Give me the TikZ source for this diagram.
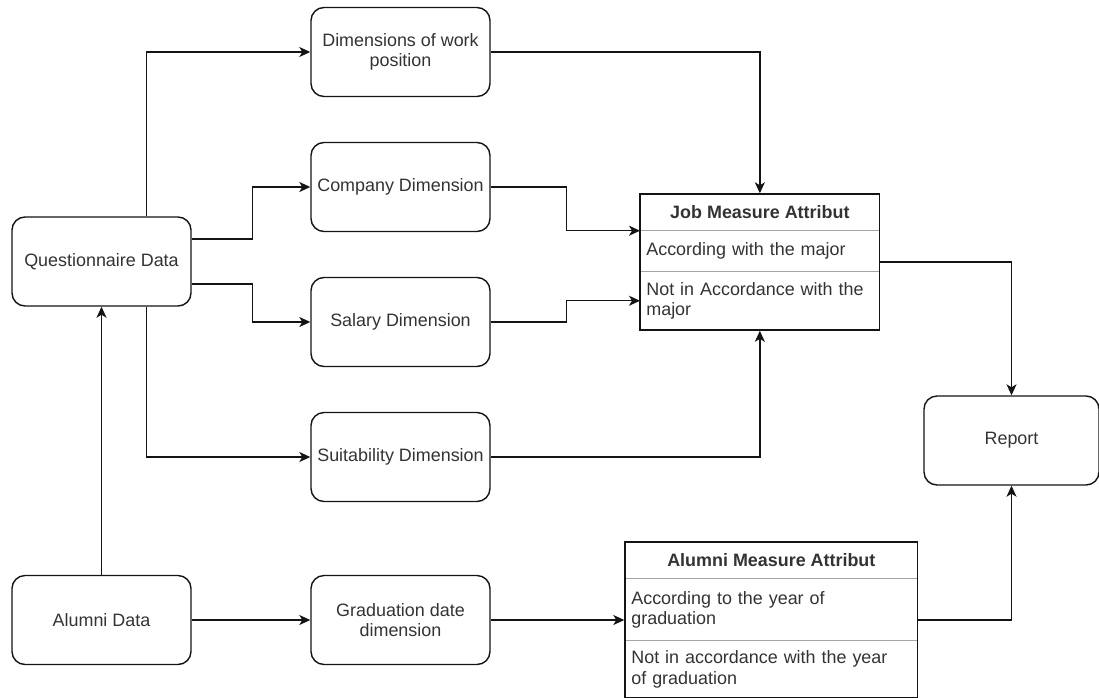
\documentclass[tikz,border=0pt]{standalone}
\usepackage{fontspec}
\setmainfont{Liberation Sans}
\usetikzlibrary{arrows.meta,positioning,fit,calc}
\definecolor{flowText}{RGB}{51,51,51}
\definecolor{flowLine}{RGB}{20,20,20}
\definecolor{flowDivider}{RGB}{165,165,165}

\begin{document}
\begin{tikzpicture}[
    font=\fontsize{10.2}{11.5}\selectfont,
    >={Stealth[length=2.2mm,width=2mm,inset=0.6mm]},
    dimbox/.style={draw=flowLine, thick, rounded corners=0.26cm, text=flowText, align=center, minimum width=3.58cm, minimum height=1.78cm},
    attrhead/.style={anchor=north west, text=flowText, minimum height=0.72cm, inner sep=0pt, font=\fontsize{10.2}{11.5}\selectfont\bfseries},
    attrrow/.style={anchor=north west, text=flowText, align=left, inner xsep=0.12cm, inner ysep=0pt},
    flow/.style={->, thick, flowLine}]
    \useasboundingbox (0,0) rectangle (21.98,-13.94);

    % Sources
    \node[dimbox] (qd) at (2.03,-5.23) {Questionnaire Data};
    \node[dimbox] (ad) at (2.03,-12.4) {Alumni Data};

    % Dimensions
    \node[dimbox] (dw) at (8.01,-1.04) {Dimensions of work\\position};
    \node[dimbox] (cd) at (8.01,-3.74) {Company Dimension};
    \node[dimbox] (sd) at (8.01,-6.44) {Salary Dimension};
    \node[dimbox] (su) at (8.01,-9.14) {Suitability Dimension};
    \node[dimbox] (gd) at (8.01,-12.4) {Graduation date\\dimension};

    % Report
    \node[dimbox, minimum width=3.5cm] (rp) at (20.23,-8.81) {Report};

    % Job Measure Attribut
    \node[attrhead, minimum width=4.78cm] (jmahead) at (12.8,-3.88) {Job Measure Attribut};
    \node[attrrow, text width=4.54cm, minimum height=0.8cm] (jmarow1) at (jmahead.south west) {According with the major};
    \node[attrrow, text width=4.54cm, minimum height=1.16cm] (jmarow2) at (jmarow1.south west) {Not in Accordance with the\\major};
    \draw[flowDivider] (jmahead.south west) -- (jmahead.south east);
    \draw[flowDivider] (jmarow1.south west) -- (jmarow1.south east);
    \node[draw=flowLine, thick, fit=(jmahead)(jmarow2), inner sep=0pt] (jma) {};

    % Alumni Measure Attribut
    \node[attrhead, minimum width=5.84cm] (amahead) at (12.5,-10.84) {Alumni Measure Attribut};
    \node[attrrow, text width=5.6cm, minimum height=1.22cm] (amarow1) at (amahead.south west) {According to the year of\\graduation};
    \node[attrrow, text width=5.6cm, minimum height=1.14cm] (amarow2) at (amarow1.south west) {Not in accordance with the year\\of graduation};
    \draw[flowDivider] (amahead.south west) -- (amahead.south east);
    \draw[flowDivider] (amarow1.south west) -- (amarow1.south east);
    \node[draw=flowLine, thick, fit=(amahead)(amarow2), inner sep=0pt] (ama) {};

    % Arrows
    \draw[flow] ($(qd.north west)!0.75!(qd.north east)$) |- (dw.west);
    \draw[flow] ($(qd.north east)!0.25!(qd.south east)$) -- ++(1.22,0) |- (cd.west);
    \draw[flow] ($(qd.north east)!0.75!(qd.south east)$) -- ++(1.22,0) |- (sd.west);
    \draw[flow] ($(qd.south west)!0.75!(qd.south east)$) |- (su.west);
    \draw[flow] (ad) -- (qd);
    \draw[flow] (ad) -- (gd);
    \draw[flow] (dw.east) -| (jma.north);
    \draw[flow] (cd.east) -- ++(1.52,0) |- (jmahead.south west);
    \draw[flow] (sd.east) -- ++(1.52,0) |- (jmarow2.west);
    \draw[flow] (su.east) -| (jma.south);
    \draw[flow] (jma.east) -| (rp.north);
    \draw[flow] (gd.east) -- (ama.west |- gd.east);
    \draw[flow] (ama.east |- gd.east) -| (rp.south);
\end{tikzpicture}
\end{document}
